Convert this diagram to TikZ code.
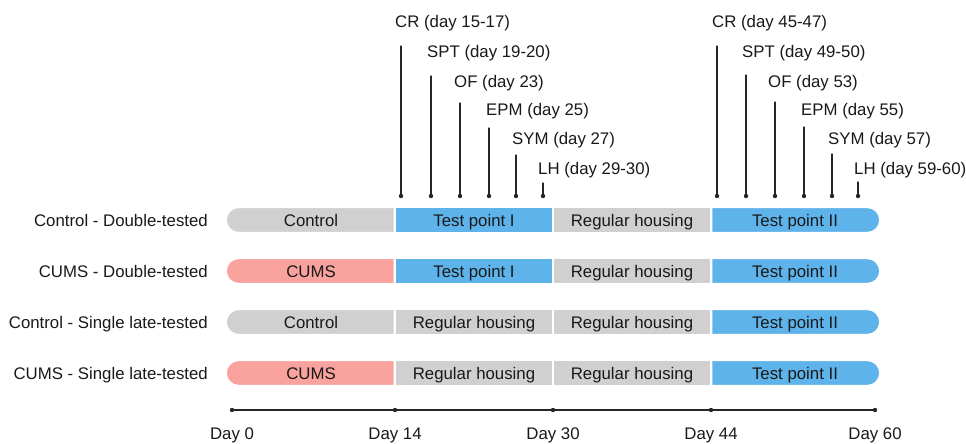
\documentclass[tikz,border=0pt]{standalone}
\usepackage{fontspec}
\setmainfont{Liberation Sans}
\usetikzlibrary{positioning,shapes.misc}
\definecolor{ddgray}{rgb}{0.816,0.816,0.816}
\definecolor{ffpink}{rgb}{0.98,0.635,0.62}
\definecolor{bbblue}{rgb}{0.365,0.702,0.918}
\definecolor{tttext}{rgb}{0.1,0.1,0.1}

\begin{document}
\begin{tikzpicture}[line cap=round,line join=round,x=1pt,y=-1pt,
	font=\fontsize{16.8}{20}\selectfont,text=tttext,
	seg/.style={draw=white,line width=1.2pt,minimum height=25pt,inner sep=0pt,
		text height=12pt,text depth=0pt},
	segL/.style={seg,rounded rectangle,rounded rectangle right arc=none,minimum width=168pt},
	segM/.style={seg,rectangle,minimum width=158pt},
	segR/.style={seg,rounded rectangle,rounded rectangle left arc=none,minimum width=168pt},
	rowlab/.style={anchor=east,inner sep=0pt,text height=12pt,text depth=0pt},
	ticklab/.style={anchor=west,inner sep=0pt,text height=12pt,text depth=0pt},
	daylab/.style={inner sep=0pt,text height=12pt,text depth=3.5pt},
	stem/.style={line width=1.1pt,color=black!85},
	axis/.style={line width=1.1pt,color=black!85}]
	\useasboundingbox (0,0) rectangle (966,444);

	% rows
	\node[rowlab] (ctlD) at (208,220) {Control - Double-tested};
	\node[segL,fill=ddgray] (ctlD1) at (311,220) {Control};
	\node[segM,fill=bbblue] (ctlD2) at (474,220) {Test point I};
	\node[segM,fill=ddgray] (ctlD3) at (632,220) {Regular housing};
	\node[segR,fill=bbblue] (ctlD4) at (795,220) {Test point II};

	\node[rowlab] (cumsD) at (208,271) {CUMS - Double-tested};
	\node[segL,fill=ffpink] (cumsD1) at (311,271) {CUMS};
	\node[segM,fill=bbblue] (cumsD2) at (474,271) {Test point I};
	\node[segM,fill=ddgray] (cumsD3) at (632,271) {Regular housing};
	\node[segR,fill=bbblue] (cumsD4) at (795,271) {Test point II};

	\node[rowlab] (ctlS) at (208,322) {Control - Single late-tested};
	\node[segL,fill=ddgray] (ctlS1) at (311,322) {Control};
	\node[segM,fill=ddgray] (ctlS2) at (474,322) {Regular housing};
	\node[segM,fill=ddgray] (ctlS3) at (632,322) {Regular housing};
	\node[segR,fill=bbblue] (ctlS4) at (795,322) {Test point II};

	\node[rowlab] (cumsS) at (208,373) {CUMS - Single late-tested};
	\node[segL,fill=ffpink] (cumsS1) at (311,373) {CUMS};
	\node[segM,fill=ddgray] (cumsS2) at (474,373) {Regular housing};
	\node[segM,fill=ddgray] (cumsS3) at (632,373) {Regular housing};
	\node[segR,fill=bbblue] (cumsS4) at (795,373) {Test point II};

	% tests, first test point
	\node[ticklab] (crA) at (395,22) {CR (day 15-17)};
	\node[ticklab] (sptA) at (427,52) {SPT (day 19-20)};
	\node[ticklab] (ofA) at (454,81) {OF (day 23)};
	\node[ticklab] (epmA) at (486,109) {EPM (day 25)};
	\node[ticklab] (symA) at (512,138) {SYM (day 27)};
	\node[ticklab] (lhA) at (538,168) {LH (day 29-30)};
	\coordinate (crAt) at (401,46);   \coordinate (crAb) at (401,196);
	\coordinate (sptAt) at (431,76);  \coordinate (sptAb) at (431,196);
	\coordinate (ofAt) at (460,103);  \coordinate (ofAb) at (460,196);
	\coordinate (epmAt) at (489,128); \coordinate (epmAb) at (489,196);
	\coordinate (symAt) at (516,155); \coordinate (symAb) at (516,196);
	\coordinate (lhAt) at (543,183);  \coordinate (lhAb) at (543,196);
	\draw[stem] (crAt) -- (crAb);
	\draw[stem] (sptAt) -- (sptAb);
	\draw[stem] (ofAt) -- (ofAb);
	\draw[stem] (epmAt) -- (epmAb);
	\draw[stem] (symAt) -- (symAb);
	\draw[stem] (lhAt) -- (lhAb);
	\fill[black!85] (crAb) circle (2.2pt) (sptAb) circle (2.2pt) (ofAb) circle (2.2pt)
		(epmAb) circle (2.2pt) (symAb) circle (2.2pt) (lhAb) circle (2.2pt);

	% tests, second test point
	\node[ticklab] (crB) at (712,22) {CR (day 45-47)};
	\node[ticklab] (sptB) at (742,52) {SPT (day 49-50)};
	\node[ticklab] (ofB) at (768,81) {OF (day 53)};
	\node[ticklab] (epmB) at (801,109) {EPM (day 55)};
	\node[ticklab] (symB) at (828,138) {SYM (day 57)};
	\node[ticklab] (lhB) at (854,168) {LH (day 59-60)};
	\coordinate (crBt) at (717,46);   \coordinate (crBb) at (717,196);
	\coordinate (sptBt) at (746,75);  \coordinate (sptBb) at (746,196);
	\coordinate (ofBt) at (775,102);  \coordinate (ofBb) at (775,196);
	\coordinate (epmBt) at (804,127); \coordinate (epmBb) at (804,196);
	\coordinate (symBt) at (832,154); \coordinate (symBb) at (832,196);
	\coordinate (lhBt) at (858,182);  \coordinate (lhBb) at (858,196);
	\draw[stem] (crBt) -- (crBb);
	\draw[stem] (sptBt) -- (sptBb);
	\draw[stem] (ofBt) -- (ofBb);
	\draw[stem] (epmBt) -- (epmBb);
	\draw[stem] (symBt) -- (symBb);
	\draw[stem] (lhBt) -- (lhBb);
	\fill[black!85] (crBb) circle (2.2pt) (sptBb) circle (2.2pt) (ofBb) circle (2.2pt)
		(epmBb) circle (2.2pt) (symBb) circle (2.2pt) (lhBb) circle (2.2pt);

	% time axis
	\coordinate (d0) at (232,410);
	\coordinate (d14) at (395,410);
	\coordinate (d30) at (553,410);
	\coordinate (d44) at (711,410);
	\coordinate (d60) at (875,410);
	\draw[axis] (d0) -- (d14) -- (d30) -- (d44) -- (d60);
	\fill[black!85] (d0) circle (2.2pt) (d14) circle (2.2pt) (d30) circle (2.2pt)
		(d44) circle (2.2pt) (d60) circle (2.2pt);
	\node[daylab,below=17pt of d0] (day0) {Day 0};
	\node[daylab,below=17pt of d14] (day14) {Day 14};
	\node[daylab,below=17pt of d30] (day30) {Day 30};
	\node[daylab,below=17pt of d44] (day44) {Day 44};
	\node[daylab,below=17pt of d60] (day60) {Day 60};
\end{tikzpicture}
\end{document}
